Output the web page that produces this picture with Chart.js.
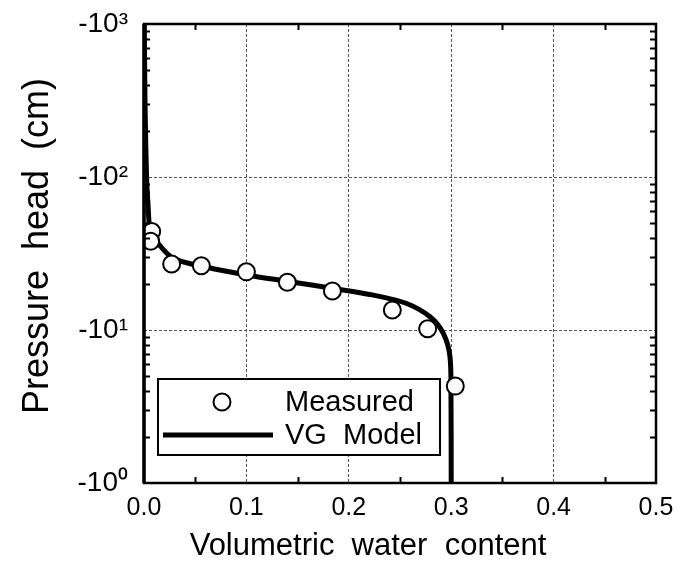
<!DOCTYPE html>
<html>
<head>
<meta charset="utf-8">
<script src="https://cdn.jsdelivr.net/npm/chart.js@4.4.1/dist/chart.umd.min.js"></script>
<style>
  html, body { margin: 0; padding: 0; background: #fff; }
  #wrap { width: 677px; height: 578px; }
</style>
</head>
<body>
<div id="wrap"><canvas id="retention"></canvas></div>
<script>
// ── DATA ──
const measuredTheta = [0.0075, 0.0065, 0.027, 0.056, 0.100, 0.140, 0.184, 0.2425, 0.277, 0.304];
const measuredHead  = [44, 38, 27, 26.3, 24, 20.5, 18, 13.5, 10.2, 4.3];

const modelTheta = [0.0003, 0.001, 0.0025, 0.004, 0.006, 0.0124, 0.0286, 0.0612, 0.1003, 0.1426, 0.1849, 0.224, 0.2565, 0.2793, 0.2923, 0.2988, 0.2998, 0.3];
const modelHead  = [1000, 300, 100, 65, 45, 37.8, 29.4, 25.7, 22.9, 20.7, 18.7, 16.9, 14.9, 12.2, 9.5, 6.7, 3.5, 1];

const xTickValues = [0, 0.1, 0.2, 0.3, 0.4, 0.5];
const yTickValues = [1, 10, 100, 1000];
const yTickLabels = ['-10\u2070', '-10\u00b9', '-10\u00b2', '-10\u00b3'];

const seriesLabels = ['Measured', 'VG  Model'];
const xTitle = 'Volumetric  water  content';
const yTitle = 'Pressure  head  (cm)';

const FONT = "'Liberation Sans', Arial, Helvetica, sans-serif";

// ── FRAME, INNER TICKS, TITLES, LEGEND ──
const decorPlugin = {
  id: 'decor',
  afterDraw(chart) {
    const { ctx, chartArea: a, scales: { x, y } } = chart;
    ctx.save();
    ctx.strokeStyle = '#000';
    ctx.lineCap = 'butt';

    // minor ticks on the log axis, both sides
    ctx.lineWidth = 2;
    [1, 10, 100].forEach(d => {
      for (let k = 2; k <= 9; k++) {
        const py = Math.round(y.getPixelForValue(k * d)) + 0.5;
        ctx.beginPath();
        ctx.moveTo(a.left, py); ctx.lineTo(a.left + 6, py);
        ctx.moveTo(a.right, py); ctx.lineTo(a.right - 6, py);
        ctx.stroke();
      }
    });
    // minor ticks on x, top and bottom
    [0.05, 0.15, 0.25, 0.35, 0.45].forEach(v => {
      const px = Math.round(x.getPixelForValue(v)) + 0.5;
      ctx.beginPath();
      ctx.moveTo(px, a.bottom); ctx.lineTo(px, a.bottom - 6);
      ctx.moveTo(px, a.top); ctx.lineTo(px, a.top + 6);
      ctx.stroke();
    });

    // frame
    ctx.lineWidth = 2.5;
    ctx.strokeRect(a.left, a.top, a.right - a.left, a.bottom - a.top);
    ctx.lineWidth = 3.5;
    ctx.beginPath(); ctx.moveTo(a.left, a.top); ctx.lineTo(a.left, a.bottom); ctx.stroke();

    // axis titles
    ctx.fillStyle = '#000';
    ctx.textAlign = 'center';
    ctx.textBaseline = 'middle';
    ctx.font = `31px ${FONT}`;
    ctx.fillText(xTitle, 368, 546);
    ctx.save();
    ctx.translate(38, 246);
    ctx.rotate(-Math.PI / 2);
    ctx.font = `36px ${FONT}`;
    ctx.fillText(yTitle, 0, 0);
    ctx.restore();

    // legend box
    const bx = 158, by = 379, bw = 282, bh = 76;
    ctx.fillStyle = '#fff';
    ctx.fillRect(bx, by, bw, bh);
    ctx.lineWidth = 2;
    ctx.strokeRect(bx, by, bw, bh);
    ctx.beginPath();
    ctx.arc(222, 402, 8.5, 0, Math.PI * 2);
    ctx.fillStyle = '#fff'; ctx.fill();
    ctx.lineWidth = 2; ctx.stroke();
    ctx.lineWidth = 5;
    ctx.beginPath(); ctx.moveTo(163, 435); ctx.lineTo(273, 435); ctx.stroke();
    ctx.fillStyle = '#000';
    ctx.textAlign = 'left';
    ctx.font = `29px ${FONT}`;
    ctx.fillText(seriesLabels[0], 285, 403);
    ctx.fillText(seriesLabels[1], 285, 436);
    ctx.restore();
  }
};

const noOverhang = s => { s.paddingTop = 0; s.paddingBottom = 0; s.paddingLeft = 0; s.paddingRight = 0; };

document.addEventListener('DOMContentLoaded', () => {
  const ctx = document.getElementById('retention').getContext('2d');

  new Chart(ctx, {
    type: 'scatter',
    data: {
      datasets: [
        {
          label: seriesLabels[0],
          data: measuredTheta.map((t, i) => ({ x: t, y: measuredHead[i] })),
          showLine: false,
          pointStyle: 'circle',
          pointRadius: 8.5,
          pointBorderWidth: 2,
          pointBorderColor: '#000',
          pointBackgroundColor: '#fff',
          order: 0
        },
        {
          label: seriesLabels[1],
          data: modelTheta.map((t, i) => ({ x: t, y: modelHead[i] })),
          showLine: true,
          borderColor: '#000',
          borderWidth: 5,
          pointRadius: 0,
          tension: 0.3,
          order: 1
        }
      ]
    },
    options: {
      animation: false,
      responsive: true,
      maintainAspectRatio: false,
      layout: { padding: { top: 24, right: 21, left: 0, bottom: 0 } },
      plugins: {
        legend: { display: false },
        tooltip: { enabled: false }
      },
      scales: {
        x: {
          type: 'linear',
          min: 0,
          max: 0.5,
          afterBuildTicks: s => { s.ticks = xTickValues.map(v => ({ value: v })); },
          afterFit: s => { s.height = 95; noOverhang(s); },
          grid: {
            color: c => (c.tick && c.tick.value > 0 && c.tick.value < 0.5) ? '#555' : 'rgba(0,0,0,0)',
            lineWidth: 1,
            drawTicks: false
          },
          border: { display: false, dash: [3, 2] },
          ticks: {
            color: '#000',
            font: { family: FONT, size: 25 },
            padding: 10,
            maxRotation: 0,
            callback: v => v.toFixed(1)
          }
        },
        y: {
          type: 'logarithmic',
          min: 1,
          max: 1000,
          afterBuildTicks: s => { s.ticks = yTickValues.map(v => ({ value: v, major: true })); },
          afterFit: s => { s.width = 144; noOverhang(s); },
          grid: {
            color: c => (c.tick && c.tick.value > 1 && c.tick.value < 1000) ? '#555' : 'rgba(0,0,0,0)',
            lineWidth: 1,
            drawTicks: false
          },
          border: { display: false, dash: [3, 2] },
          ticks: {
            color: '#000',
            font: { family: FONT, size: 28 },
            padding: 16,
            callback: v => yTickLabels[yTickValues.indexOf(v)] ?? ''
          }
        }
      }
    },
    plugins: [decorPlugin]
  });
});
</script>
</body>
</html>
